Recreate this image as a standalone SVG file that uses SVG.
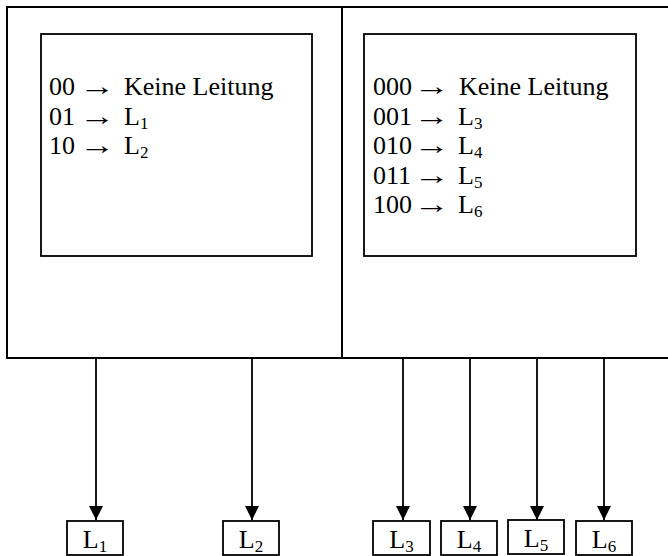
<svg xmlns="http://www.w3.org/2000/svg" width="668" height="556" viewBox="0 0 668 556">
<style>
.frame{fill:none;stroke:#000;stroke-width:2}
.box{fill:#fff;stroke:#000;stroke-width:1.8}
.conn{stroke:#000;stroke-width:1.8;fill:none}
text{font-family:"Liberation Serif","Times New Roman",serif;font-size:26px;fill:#000}
.sub{font-size:17px}
</style>
<defs>
<marker id="ah" markerUnits="userSpaceOnUse" markerWidth="14" markerHeight="14" refX="14" refY="7" orient="auto">
<path d="M0,0 L14,7 L0,14 z" fill="#000"/>
</marker>
</defs>
<g id="mux">
<rect class="frame" x="7" y="7" width="670" height="351"/>
<line class="frame" x1="342" y1="7" x2="342" y2="358"/>
</g>
<g id="table-left">
<rect class="box" x="41" y="34" width="271" height="222"/>
<text y="94.5"><tspan x="49">00</tspan><tspan x="124">Keine Leitung</tspan></text>
<text y="124.5"><tspan x="49">01</tspan><tspan x="124">L</tspan><tspan class="sub" dy="4">1</tspan></text>
<text y="154"><tspan x="49">10</tspan><tspan x="124">L</tspan><tspan class="sub" dy="4">2</tspan></text>
<text transform="translate(79.5,94.5) scale(1.38,1)">→</text>
<text transform="translate(79.5,124.5) scale(1.38,1)">→</text>
<text transform="translate(79.5,154) scale(1.38,1)">→</text>
</g>
<g id="table-right">
<rect class="box" x="364" y="34" width="272" height="222"/>
<text y="94.5"><tspan x="373">000</tspan><tspan x="459">Keine Leitung</tspan></text>
<text y="124.5"><tspan x="373">001</tspan><tspan x="458">L</tspan><tspan class="sub" dy="4">3</tspan></text>
<text y="154"><tspan x="373">010</tspan><tspan x="458">L</tspan><tspan class="sub" dy="4">4</tspan></text>
<text y="183.5"><tspan x="373">011</tspan><tspan x="458">L</tspan><tspan class="sub" dy="4">5</tspan></text>
<text y="213"><tspan x="373">100</tspan><tspan x="458">L</tspan><tspan class="sub" dy="4">6</tspan></text>
<text transform="translate(414,94.5) scale(1.38,1)">→</text>
<text transform="translate(414,124.5) scale(1.38,1)">→</text>
<text transform="translate(414,154) scale(1.38,1)">→</text>
<text transform="translate(414,183.5) scale(1.38,1)">→</text>
<text transform="translate(414,213) scale(1.38,1)">→</text>
</g>
<g id="connectors">
<line class="conn" x1="96" y1="358" x2="96" y2="520" marker-end="url(#ah)"/>
<line class="conn" x1="252" y1="358" x2="252" y2="520" marker-end="url(#ah)"/>
<line class="conn" x1="403" y1="358" x2="403" y2="520" marker-end="url(#ah)"/>
<line class="conn" x1="470" y1="358" x2="470" y2="520" marker-end="url(#ah)"/>
<line class="conn" x1="537" y1="358" x2="537" y2="520" marker-end="url(#ah)"/>
<line class="conn" x1="604" y1="358" x2="604" y2="520" marker-end="url(#ah)"/>
</g>
<g id="L1"><rect class="box" x="67" y="521" width="56" height="34"/><text x="95" y="548" text-anchor="middle">L<tspan class="sub" dy="4">1</tspan></text></g>
<g id="L2"><rect class="box" x="223" y="521" width="56" height="34"/><text x="251" y="548" text-anchor="middle">L<tspan class="sub" dy="4">2</tspan></text></g>
<g id="L3"><rect class="box" x="373" y="521" width="57" height="34"/><text x="401.5" y="548" text-anchor="middle">L<tspan class="sub" dy="4">3</tspan></text></g>
<g id="L4"><rect class="box" x="441" y="521" width="56" height="34"/><text x="469" y="548" text-anchor="middle">L<tspan class="sub" dy="4">4</tspan></text></g>
<g id="L5"><rect class="box" x="508" y="520" width="56" height="34"/><text x="536" y="547" text-anchor="middle">L<tspan class="sub" dy="4">5</tspan></text></g>
<g id="L6"><rect class="box" x="576" y="521" width="56" height="34"/><text x="604" y="548" text-anchor="middle">L<tspan class="sub" dy="4">6</tspan></text></g>
</svg>
